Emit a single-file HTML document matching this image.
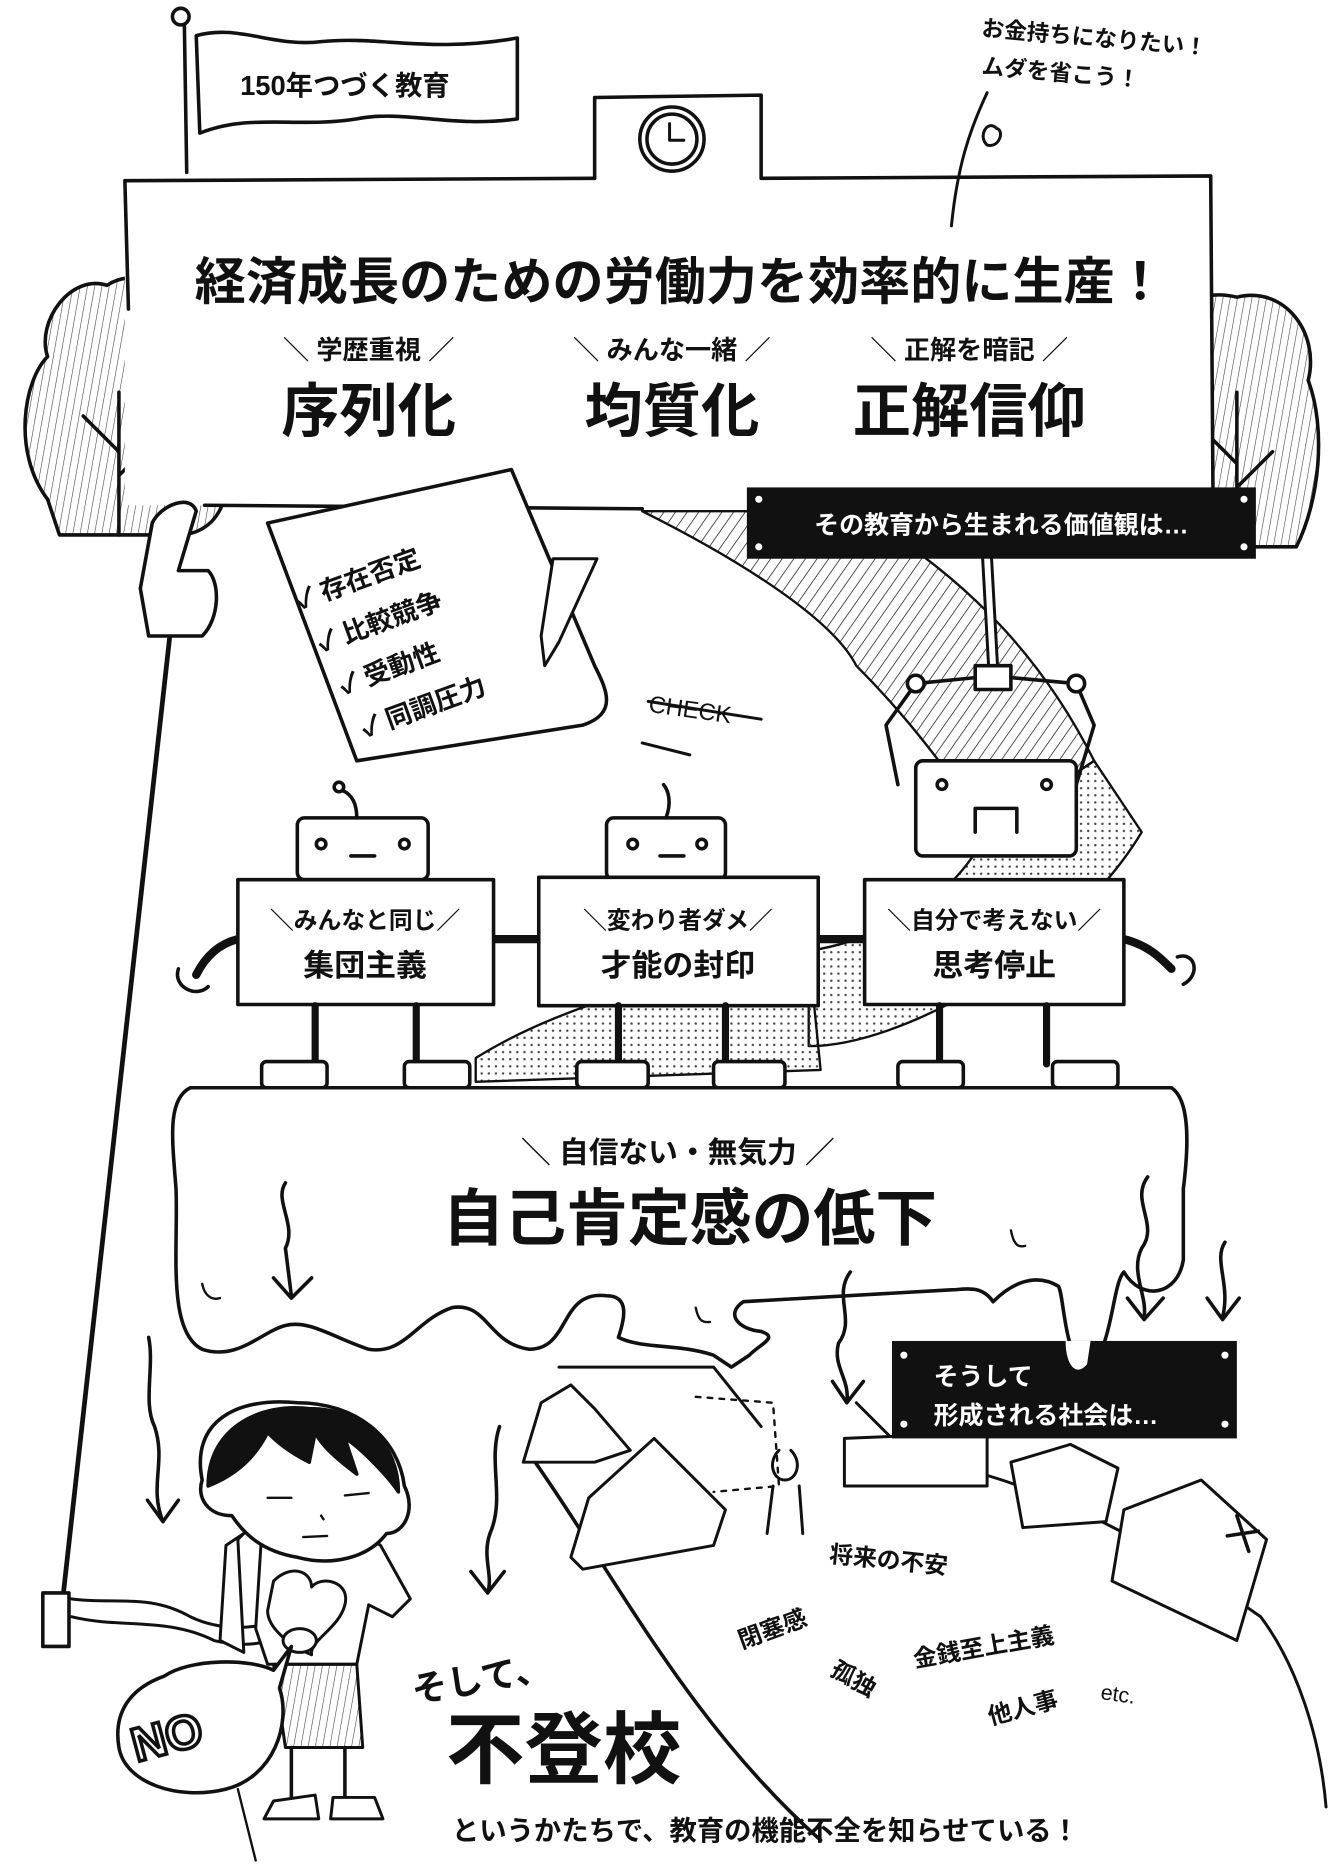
<!DOCTYPE html>
<html><head><meta charset="utf-8"><style>
html,body{margin:0;padding:0;background:#fff}
svg{display:block}
text{font-family:"Liberation Sans","Noto Sans CJK JP",sans-serif;font-weight:bold;fill:#111}
</style></head><body>
<svg width="1332" height="1864" viewBox="0 0 1120 1568" preserveAspectRatio="none" xmlns="http://www.w3.org/2000/svg">
<defs>
<pattern id="hatch" width="8" height="8" patternUnits="userSpaceOnUse" patternTransform="rotate(35)"><line x1="0" y1="0" x2="0" y2="8" stroke="#333" stroke-width="1.4"/></pattern>
<pattern id="dots" width="6" height="6" patternUnits="userSpaceOnUse"><circle cx="3" cy="3" r="1" fill="#444"/></pattern>
<pattern id="vh" width="6" height="6" patternUnits="userSpaceOnUse" patternTransform="rotate(10)"><line x1="0" y1="0" x2="0" y2="6" stroke="#444" stroke-width="1"/></pattern>
</defs>
<g fill="none" stroke="#111" stroke-width="3" stroke-linecap="round" stroke-linejoin="round">
<path d="M540 430 C620 470 700 520 720 560 C760 600 800 650 830 700 L920 640 C880 560 820 490 720 430 Z" fill="url(#hatch)" stroke-width="2"/>
<path d="M830 700 C800 760 740 790 680 800 L680 880 C760 880 900 800 960 700 L920 640 Z" fill="url(#dots)" stroke-width="2"/>
<path d="M400 890 C480 840 580 820 680 800 L690 900 L400 910 Z" fill="url(#dots)" stroke-width="2"/>
<path d="M40 420 C10 380 20 320 40 300 C30 270 60 230 90 240 C120 220 170 250 160 290 C190 300 200 350 185 380 C200 420 180 450 150 450 L50 450 Z" fill="url(#vh)"/>
<path d="M100 450 L100 330 M100 380 L70 350 M100 400 L130 370" stroke-width="3"/>
<path d="M975 450 C950 400 960 330 980 300 C975 270 1000 240 1040 250 C1080 240 1110 280 1100 320 C1115 360 1110 420 1090 460 L990 460 Z" fill="url(#vh)"/>
<path d="M1040 460 L1040 330 M1040 390 L1010 360 M1040 410 L1070 380"/>
<line x1="155" y1="20" x2="157" y2="145"/>
<circle cx="152" cy="14" r="7" fill="#fff"/>
<path d="M165 30 C200 20 230 40 270 35 C320 30 360 45 435 32 L435 100 C380 108 340 92 300 100 C250 108 210 95 168 112 Z" fill="#fff"/>
<path d="M500 150 L500 82 L640 80 L640 150" fill="#fff"/>
<path d="M105 152 L1018 148 L1020 425 L105 425 Z" fill="#fff" stroke="none"/>
<path d="M105 152 L500 150 M640 150 L1018 148 L1020 425 M172 425 L540 428 M105 152 L108 260"/>
<circle cx="565" cy="117" r="27" fill="#fff"/><circle cx="565" cy="117" r="21"/>
<path d="M563 104 L563 118 L575 118" stroke-width="2.5"/>
<path d="M800 190 C805 140 815 110 830 78 M838 108 C830 100 822 115 830 122 C840 125 845 110 838 108" stroke-width="2.5"/>
<path d="M225 440 L430 395 L500 560 C510 580 520 600 490 610 L300 640 Z" fill="#fff"/>
<path d="M465 470 L502 470 L470 540 L458 560 L455 535 Z" fill="#fff" stroke-width="2.5"/>
<path d="M545 590 L640 605 M540 625 L580 635" stroke-width="2.5"/>
<line x1="150" y1="470" x2="50" y2="1370" stroke-width="4"/>
<path d="M128 440 C135 425 160 415 165 430 L150 480 L175 480 C185 490 185 520 170 535 L125 535 L118 495 Z" fill="#fff"/>
<rect x="36" y="1340" width="22" height="45" fill="#fff"/>
<path d="M830 470 L835 560" stroke-width="10" stroke="#111"/><path d="M830 470 L835 560" stroke-width="5" stroke="#fff"/>
<rect x="820" y="560" width="30" height="20" fill="#fff"/>
<path d="M820 570 L770 575 L745 610 L755 660 M850 570 L905 575 L920 610 L905 660"/>
<circle cx="770" cy="575" r="7" fill="#fff"/><circle cx="905" cy="575" r="7" fill="#fff"/>
<rect x="770" y="640" width="135" height="80" rx="6" fill="#fff"/>
<circle cx="792" cy="660" r="4"/><circle cx="880" cy="660" r="4"/>
<path d="M820 700 L820 680 L855 680 L855 700"/>
<rect x="250" y="688" width="110" height="52" rx="6" fill="#fff"/>
<circle cx="270" cy="710" r="4"/><circle cx="340" cy="710" r="4"/><path d="M295 720 L315 720"/>
<path d="M300 688 C300 675 295 668 288 665"/><circle cx="285" cy="662" r="4"/>
<rect x="510" y="688" width="100" height="52" rx="6" fill="#fff"/>
<circle cx="532" cy="710" r="4"/><circle cx="590" cy="710" r="4"/><path d="M555 720 L575 720"/>
<path d="M560 688 C565 675 562 665 558 660"/>
<path d="M200 790 C180 795 170 810 165 820" stroke-width="7"/>
<path d="M150 815 C145 830 165 840 175 830" />
<path d="M415 790 L455 790 M688 790 L728 790" stroke-width="7"/>
<path d="M945 790 C965 795 975 805 985 815" stroke-width="7"/>
<path d="M990 805 C1005 800 1010 820 995 828"/>
<rect x="200" y="740" width="215" height="105" fill="#fff"/>
<rect x="453" y="738" width="235" height="108" fill="#fff"/>
<rect x="727" y="740" width="218" height="105" fill="#fff"/>
<path d="M265 846 L265 895 M350 846 L350 895 M520 846 L520 895 M610 846 L610 895 M790 846 L790 895 M880 846 L880 895" stroke-width="6"/>
<rect x="220" y="893" width="55" height="22" rx="4" fill="#fff"/><rect x="340" y="893" width="55" height="22" rx="4" fill="#fff"/>
<rect x="485" y="893" width="60" height="22" rx="4" fill="#fff"/><rect x="600" y="893" width="60" height="22" rx="4" fill="#fff"/>
<rect x="755" y="893" width="55" height="22" rx="4" fill="#fff"/><rect x="885" y="893" width="55" height="22" rx="4" fill="#fff"/>
<path d="M160 915 L985 915 C1000 925 1000 960 995 1000 L995 1060 C990 1090 960 1095 945 1070 C935 1080 935 1140 915 1148 C895 1150 895 1090 890 1082 C870 1070 850 1080 835 1095 C825 1080 810 1085 800 1085 L625 1095 C610 1105 620 1118 640 1120 C655 1125 640 1130 630 1140 L615 1150 L600 1140 C570 1130 540 1135 520 1125 C525 1110 530 1090 510 1090 C470 1085 480 1135 445 1135 C410 1130 410 1095 380 1100 C350 1110 340 1140 310 1135 C280 1125 260 1110 240 1115 C220 1120 200 1145 170 1135 C140 1120 150 1050 148 1000 C145 960 140 925 160 915 Z" fill="#fff"/>
<g stroke-width="3">
<path d="M240 995 C230 1010 250 1030 240 1050 L245 1090 M230 1075 L245 1092 L262 1075"/>
<path d="M965 990 C950 1010 975 1030 960 1050 C950 1070 965 1090 962 1108 M948 1092 L962 1110 L978 1092"/>
<path d="M1030 1045 C1020 1060 1035 1080 1028 1108 M1015 1092 L1028 1110 L1042 1092"/>
<path d="M715 1070 C700 1090 720 1110 705 1130 C700 1150 715 1160 712 1180 M700 1162 L712 1180 L726 1162"/>
<path d="M125 1125 C130 1150 120 1180 130 1200 C140 1230 125 1250 137 1280 M124 1262 L137 1280 L150 1262"/>
<path d="M420 1200 C410 1230 425 1260 412 1290 C405 1310 415 1325 410 1340 M396 1322 L410 1340 L424 1322"/>
<path d="M170 1080 C172 1090 178 1094 185 1092 M585 1100 C587 1110 590 1113 597 1112 M850 1035 C852 1045 855 1050 862 1048" stroke-width="2"/>
</g>
<path d="M450 1230 C520 1330 580 1450 690 1548"/>
<path d="M470 1150 L600 1150 L640 1200 M720 1180 L770 1230 C860 1235 990 1310 1060 1360 C1090 1400 1110 1460 1115 1520" stroke-width="2.5"/>
<path d="M440 1230 L455 1180 L480 1165 L500 1185 L530 1220 L500 1230 Z" fill="#fff" stroke-width="2.5"/>
<path d="M480 1310 L495 1260 L550 1210 L610 1270 L600 1300 L490 1320 Z" fill="#fff" stroke-width="2.5"/>
<path d="M585 1175 L650 1180 L655 1250 L600 1255" stroke-dasharray="4 6" stroke-width="2"/>
<path d="M710 1210 L830 1205 L830 1250 L710 1250 Z" fill="#fff" stroke-width="2.5"/>
<path d="M850 1230 L900 1215 L940 1235 L930 1280 L860 1285 Z" fill="#fff" stroke-width="2.5"/>
<path d="M945 1270 L1010 1245 L1065 1295 L1040 1380 L935 1330 Z" fill="#fff" stroke-width="2.5"/>
<path d="M1040 1275 L1050 1305 M1032 1292 L1058 1288" stroke-width="3"/>
<path d="M655 1220 C645 1230 650 1245 660 1245 C670 1245 675 1230 665 1220 M650 1250 L645 1290 M672 1250 L675 1290" stroke-width="2.5"/>
<path d="M60 1360 C100 1370 140 1360 180 1380 C200 1385 220 1385 240 1375" stroke-width="2.5"/>
<path d="M60 1345 C95 1350 125 1340 160 1360 C185 1372 210 1370 230 1365" stroke-width="2.5"/>
<path d="M205 1290 L190 1300 L185 1380 L205 1390 L200 1295 Z" fill="#fff" stroke-width="2.5"/>
<path d="M220 1290 C240 1280 300 1285 320 1300 L345 1345 L330 1360 L310 1350 L300 1400 L225 1400 L215 1370 Z" fill="#fff" stroke-width="2.5"/>
<path d="M230 1400 L300 1400 L305 1470 L240 1470 Z" fill="url(#vh)" stroke-width="2.5"/>
<path d="M245 1470 L245 1515 M290 1470 L290 1515" stroke-width="3"/>
<path d="M230 1515 L265 1510 L268 1530 L222 1530 Z M280 1512 L315 1512 L322 1530 L278 1530 Z" fill="#fff" stroke-width="2.5"/>
<path d="M170 1245 C160 1195 200 1175 250 1180 C300 1180 335 1210 340 1250 C350 1270 340 1290 325 1290 C310 1310 280 1318 250 1310 C220 1305 205 1290 195 1275 C175 1275 165 1260 170 1245 Z" fill="#fff" stroke-width="3"/>
<path d="M175 1250 C175 1200 220 1180 260 1185 C305 1185 335 1215 335 1255 C325 1240 300 1215 290 1210 L300 1240 C280 1225 270 1215 265 1205 L260 1230 C240 1220 230 1210 225 1205 C215 1225 200 1240 175 1250 Z" fill="#111"/>
<path d="M225 1260 L245 1260 M290 1258 L310 1256 M270 1275 L272 1278 M255 1293 L275 1292" stroke-width="2"/>
<path d="M230 1330 C245 1315 262 1322 262 1335 C270 1325 295 1330 290 1350 C285 1370 260 1380 262 1392 C245 1385 225 1370 225 1355 Z" fill="#fff" stroke-width="2.5"/>
<ellipse cx="252" cy="1380" rx="14" ry="10" fill="#fff" stroke-width="2.5"/>
<path d="M138 1410 C160 1395 210 1395 230 1405 L245 1385 L235 1420 C245 1450 230 1495 190 1505 C150 1515 105 1500 100 1470 C95 1440 110 1420 138 1410 Z" fill="#fff" stroke-width="3"/>
<path d="M200 1505 L215 1565" stroke-width="2"/>
</g>
<rect x="628" y="410" width="428" height="60" fill="#111"/>
<circle cx="638" cy="420" r="3" fill="#fff"/><circle cx="638" cy="460" r="3" fill="#fff"/><circle cx="1046" cy="420" r="3" fill="#fff"/><circle cx="1046" cy="460" r="3" fill="#fff"/>
<rect x="750" y="1128" width="290" height="82" fill="#111"/>
<circle cx="760" cy="1140" r="3" fill="#fff"/><circle cx="760" cy="1198" r="3" fill="#fff"/><circle cx="1030" cy="1140" r="3" fill="#fff"/><circle cx="1030" cy="1198" r="3" fill="#fff"/>
<path d="M895 1128 C895 1150 905 1160 915 1148 L918 1128" fill="#fff" stroke="#111" stroke-width="2"/>
<text x="290" y="80" font-size="23" text-anchor="middle">150年つづく教育</text>
<text x="825" y="30" font-size="19" transform="rotate(5 825 30)">お金持ちになりたい！</text>
<text x="825" y="62" font-size="19" transform="rotate(5 825 62)">ムダを省こう！</text>
<text x="572" y="252" font-size="43" text-anchor="middle">経済成長のための労働力を効率的に生産！</text>
<text x="310" y="302" font-size="22" text-anchor="middle">＼ 学歴重視 ／</text>
<text x="565" y="302" font-size="22" text-anchor="middle">＼ みんな一緒 ／</text>
<text x="815" y="302" font-size="22" text-anchor="middle">＼ 正解を暗記 ／</text>
<text x="310" y="363" font-size="49" text-anchor="middle">序列化</text>
<text x="565" y="363" font-size="49" text-anchor="middle">均質化</text>
<text x="815" y="363" font-size="49" text-anchor="middle">正解信仰</text>
<text x="842" y="449" font-size="21" text-anchor="middle" style="fill:#fff">その教育から生まれる価値観は…</text>
<g font-size="22" transform="rotate(-20 350 520)">
<text x="260" y="480">✓ 存在否定</text><text x="265" y="520">✓ 比較競争</text><text x="270" y="560">✓ 受動性</text><text x="275" y="600">✓ 同調圧力</text>
</g>
<text x="545" y="605" font-size="20" transform="rotate(8 590 600)" style="font-weight:normal">CHECK</text>
<text x="307" y="781" font-size="20" text-anchor="middle">＼みんなと同じ／</text>
<text x="307" y="821" font-size="26" text-anchor="middle">集団主義</text>
<text x="570" y="781" font-size="20" text-anchor="middle">＼変わり者ダメ／</text>
<text x="570" y="821" font-size="26" text-anchor="middle">才能の封印</text>
<text x="836" y="781" font-size="20" text-anchor="middle">＼自分で考えない／</text>
<text x="836" y="821" font-size="26" text-anchor="middle">思考停止</text>
<text x="570" y="978" font-size="25" text-anchor="middle">＼ 自信ない・無気力 ／</text>
<text x="580" y="1043" font-size="52" text-anchor="middle">自己肯定感の低下</text>
<text x="785" y="1165" font-size="21" style="fill:#fff">そうして</text>
<text x="785" y="1198" font-size="21" style="fill:#fff">形成される社会は…</text>
<text x="697" y="1320" font-size="20" transform="rotate(6 755 1315)">将来の不安</text>
<text x="618" y="1375" font-size="20" transform="rotate(-20 655 1365)">閉塞感</text>
<text x="765" y="1390" font-size="20" transform="rotate(-10 840 1372)">金銭至上主義</text>
<text x="695" y="1420" font-size="20" transform="rotate(30 718 1418)">孤独</text>
<text x="828" y="1442" font-size="20" transform="rotate(-15 865 1428)">他人事</text>
<text x="925" y="1432" font-size="18" transform="rotate(8 945 1430)" style="font-weight:normal">etc.</text>
<text x="140" y="1475" font-size="40" text-anchor="middle" transform="rotate(-15 140 1460)" style="fill:#fff;stroke:#111;stroke-width:3">NO</text>
<text x="345" y="1425" font-size="30" transform="rotate(-10 390 1410)">そして、</text>
<text x="375" y="1495" font-size="66">不登校</text>
<text x="380" y="1548" font-size="23">というかたちで、教育の機能不全を知らせている！</text>
</svg>
</body></html>
